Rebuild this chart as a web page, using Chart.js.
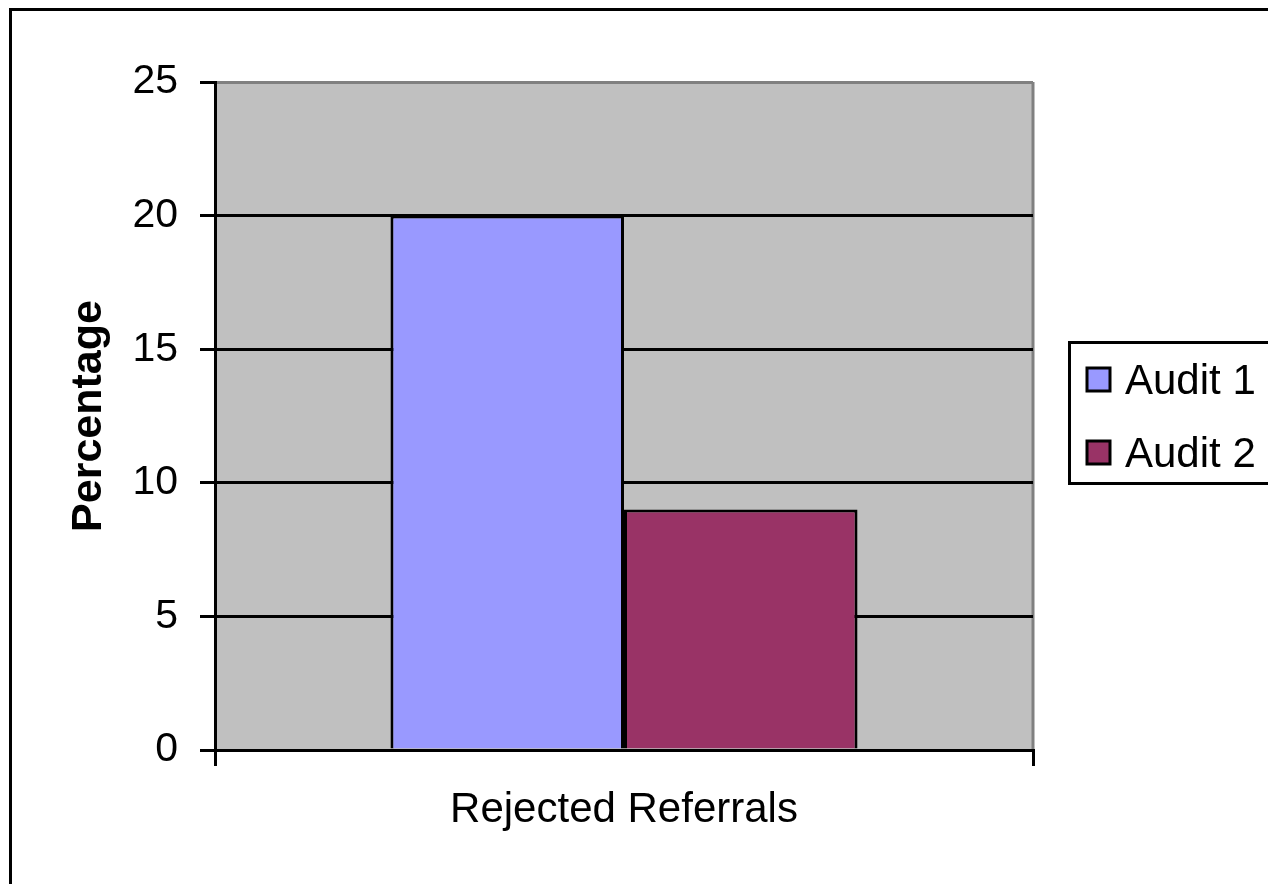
<!DOCTYPE html>
<html>
<head>
<meta charset="utf-8">
<script src="https://cdn.jsdelivr.net/npm/chart.js@4/dist/chart.umd.min.js"></script>
<style>
  html, body { margin: 0; padding: 0; background: #fff; }
  #chart { display: block; }
</style>
</head>
<body>
<canvas id="chart" width="1268" height="884"></canvas>
<script>
// data
const categories = ['Rejected Referrals'];
const seriesNames = ['Audit 1', 'Audit 2'];
const audit1 = [20];
const audit2 = [9];
const seriesColors = ['#9999FF', '#993366'];
const yTicks = [0, 5, 10, 15, 20, 25];

const FONT = "'Liberation Sans', Arial, sans-serif";

// plot background, frame and legend (old excel look)
const excelLook = {
  id: 'excelLook',
  beforeDraw(chart) {
    const { ctx, chartArea: a } = chart;
    ctx.save();
    ctx.fillStyle = '#C0C0C0';
    ctx.fillRect(a.left, a.top, a.right - a.left, a.bottom - a.top);
    ctx.strokeStyle = '#808080';
    ctx.lineWidth = 3;
    ctx.beginPath();
    ctx.moveTo(a.right, a.top);
    ctx.lineTo(a.right, a.bottom);
    ctx.stroke();
    ctx.restore();
  },
  afterDraw(chart) {
    const { ctx } = chart;
    ctx.save();
    // outer frame
    ctx.strokeStyle = '#000';
    ctx.lineWidth = 3;
    ctx.strokeRect(10.5, 9.5, 1300, 1000);

    // legend box
    ctx.strokeRect(1069.5, 342.5, 300, 141);
    const rows = [380, 453];
    ctx.font = '42px ' + FONT;
    ctx.textBaseline = 'middle';
    ctx.textAlign = 'left';
    chart.data.datasets.forEach((ds, i) => {
      const y = rows[i];
      ctx.fillStyle = ds.backgroundColor;
      ctx.fillRect(1087, y - 12, 23, 23);
      ctx.lineWidth = 3;
      ctx.strokeStyle = '#000';
      ctx.strokeRect(1087, y - 12, 23, 23);
      ctx.fillStyle = '#000';
      ctx.fillText(ds.label, 1125, y + 2);
    });
    ctx.restore();
  }
};

new Chart(document.getElementById('chart'), {
  type: 'bar',
  data: {
    labels: categories,
    datasets: [
      { label: seriesNames[0], data: audit1, backgroundColor: seriesColors[0] },
      { label: seriesNames[1], data: audit2, backgroundColor: seriesColors[1] }
    ]
  },
  options: {
    responsive: false,
    animation: false,
    devicePixelRatio: 1,
    layout: { padding: { top: 82, right: 235, left: 0, bottom: 0 } },
    datasets: {
      bar: {
        categoryPercentage: 0.571,
        barPercentage: 1,
        borderColor: '#000',
        borderWidth: 3
      }
    },
    plugins: {
      legend: { display: false },
      tooltip: { enabled: false }
    },
    scales: {
      x: {
        grid: {
          offset: true,
          drawOnChartArea: false,
          color: '#000',
          lineWidth: 3,
          tickLength: 16
        },
        border: { color: '#000', width: 3 },
        ticks: {
          color: '#000',
          padding: 19,
          font: { family: FONT, size: 42 }
        },
        afterFit(scale) { scale.height = 134; }
      },
      y: {
        min: 0,
        max: 25,
        afterBuildTicks(scale) { scale.ticks = yTicks.map(v => ({ value: v })); },
        grid: {
          color: ctx => (ctx.tick && ctx.tick.value === 25 ? '#808080' : '#000'),
          tickColor: '#000',
          lineWidth: 3,
          tickLength: 15
        },
        border: { color: '#000', width: 3 },
        ticks: {
          color: '#000',
          padding: 22,
          font: { family: FONT, size: 41 }
        },
        title: {
          display: true,
          text: 'Percentage',
          color: '#000',
          padding: { top: 63, bottom: 0 },
          font: { family: FONT, size: 43, weight: 'bold', lineHeight: 1.2 }
        },
        afterFit(scale) { scale.width = 215; }
      }
    }
  },
  plugins: [excelLook]
});
</script>
</body>
</html>
